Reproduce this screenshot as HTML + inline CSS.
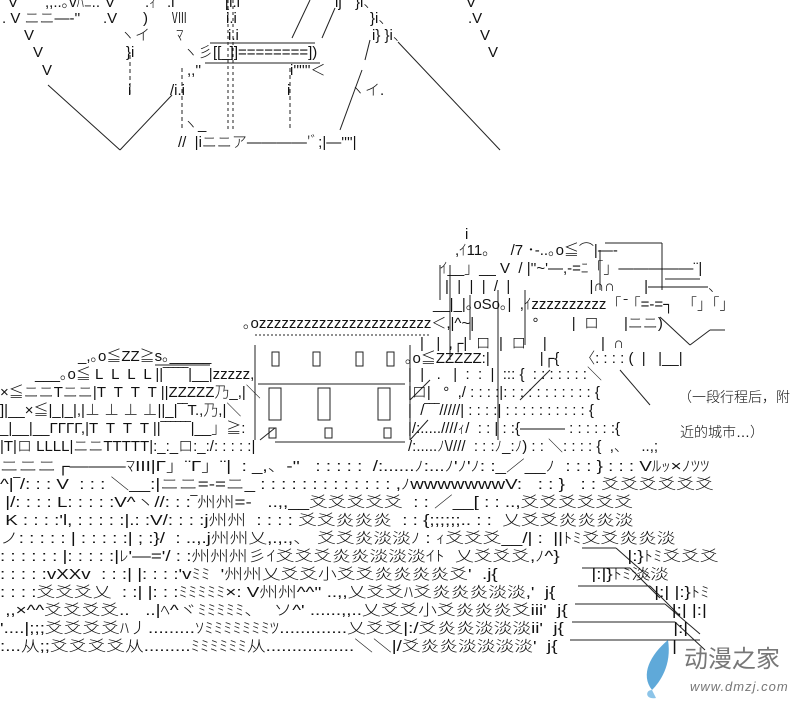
<!DOCTYPE html>
<html><head><meta charset="utf-8"><style>
body{margin:0;background:#fff;width:800px;height:702px;overflow:hidden;position:relative;font-family:"Liberation Sans","Noto Sans CJK JP",sans-serif;}
.t{position:absolute;white-space:pre;font-size:15px;line-height:18px;color:#111;font-family:"Liberation Sans","Noto Sans CJK JP",sans-serif;font-weight:300}
.b{position:absolute;left:0;top:458px;transform:scaleX(1.25);transform-origin:0 0}
.b .t{position:relative;display:block}
svg{position:absolute;left:0;top:0}
</style></head><body>
<svg width="800" height="702" stroke="#222" stroke-width="1" fill="none">
<line x1="48" y1="85" x2="120" y2="150"/><line x1="120" y1="150" x2="172" y2="95"/>
<line x1="398" y1="42" x2="500" y2="150"/>
<line x1="310" y1="0" x2="292" y2="38"/><line x1="335" y1="8" x2="322" y2="38"/>
<line x1="362" y1="70" x2="340" y2="130"/><line x1="370" y1="40" x2="365" y2="60"/>
<line x1="210" y1="43" x2="315" y2="43"/><line x1="205" y1="63" x2="320" y2="63"/>
<line x1="228" y1="0" x2="228" y2="132" stroke-dasharray="3,3"/>
<line x1="233" y1="0" x2="233" y2="132" stroke-dasharray="3,3"/>
<line x1="290" y1="68" x2="290" y2="130" stroke-dasharray="4,3"/>
<line x1="182" y1="68" x2="182" y2="130" stroke-dasharray="4,3"/>
<line x1="130" y1="55" x2="130" y2="95" stroke-dasharray="4,3"/>
<line x1="255" y1="345" x2="255" y2="440"/><line x1="410" y1="345" x2="410" y2="440"/>
<line x1="258" y1="384" x2="405" y2="384"/><line x1="275" y1="442" x2="405" y2="442"/>
<line x1="255" y1="335" x2="430" y2="335" stroke-dasharray="2,2"/>
<rect x="272" y="352" width="7" height="14"/><rect x="313" y="352" width="7" height="14"/><rect x="356" y="352" width="7" height="14"/><rect x="387" y="352" width="7" height="14"/>
<rect x="269" y="388" width="12" height="32"/><rect x="318" y="388" width="12" height="32"/><rect x="378" y="388" width="12" height="32"/>
<rect x="269" y="428" width="7" height="10"/><rect x="325" y="428" width="7" height="10"/><rect x="384" y="428" width="7" height="10"/>
<line x1="155" y1="365" x2="210" y2="365"/>
<line x1="260" y1="440" x2="275" y2="428"/>
<line x1="600" y1="250" x2="600" y2="290"/><line x1="605" y1="243" x2="662" y2="243"/><line x1="662" y1="243" x2="662" y2="290"/>
<line x1="665" y1="279" x2="700" y2="279"/>
<line x1="660" y1="317" x2="690" y2="345"/><line x1="690" y1="345" x2="710" y2="330"/><line x1="710" y1="330" x2="725" y2="330"/>
<line x1="498" y1="290" x2="498" y2="440"/><line x1="525" y1="290" x2="525" y2="345"/>
<line x1="470" y1="295" x2="470" y2="340"/>
<line x1="450" y1="265" x2="450" y2="360"/><line x1="440" y1="265" x2="440" y2="300"/>
<line x1="620" y1="370" x2="650" y2="405"/><line x1="550" y1="370" x2="520" y2="400"/>
<line x1="410" y1="400" x2="430" y2="380"/>
<line x1="428" y1="420" x2="410" y2="440"/>
<line x1="582" y1="548" x2="616" y2="548"/><line x1="616" y1="548" x2="650" y2="578"/>
<line x1="582" y1="568" x2="630" y2="568"/><line x1="630" y1="568" x2="660" y2="598"/>
<line x1="578" y1="586" x2="650" y2="586"/><line x1="650" y1="586" x2="680" y2="616"/>
<line x1="575" y1="604" x2="665" y2="604"/><line x1="665" y1="604" x2="700" y2="634"/>
<line x1="572" y1="622" x2="675" y2="622"/><line x1="675" y1="622" x2="705" y2="650"/>
<line x1="570" y1="640" x2="700" y2="640"/>
</svg>

<div class="t" style="left:8px;top:-6px">V</div><div class="t" style="left:45px;top:-6px">,,..｡vﾊﾆ..</div><div class="t" style="left:105px;top:-6px">V</div><div class="t" style="left:145px;top:-6px">.ｨ</div><div class="t" style="left:167px;top:-6px">.i</div><div class="t" style="left:225px;top:-6px">[i.i</div><div class="t" style="left:335px;top:-6px">ij</div><div class="t" style="left:355px;top:-6px">}i、</div><div class="t" style="left:466px;top:-6px">V</div>
<div class="t" style="left:2px;top:10px">. V ニニ―‐''</div><div class="t" style="left:103px;top:10px">.V</div><div class="t" style="left:143px;top:10px">)</div><div class="t" style="left:172px;top:10px">Ⅷ</div><div class="t" style="left:226px;top:10px">i.i</div><div class="t" style="left:370px;top:10px">}i、</div><div class="t" style="left:468px;top:10px">.V</div>
<div class="t" style="left:24px;top:27px">V</div><div class="t" style="left:120px;top:27px">ヽイ</div><div class="t" style="left:176px;top:27px">ﾏ</div><div class="t" style="left:228px;top:27px">i.i</div><div class="t" style="left:372px;top:27px">i} }i、</div><div class="t" style="left:480px;top:27px">V</div>
<div class="t" style="left:33px;top:44px">V</div><div class="t" style="left:126px;top:44px">}i</div><div class="t" style="left:183px;top:44px">ヽ彡[[_]]========])</div><div class="t" style="left:488px;top:44px">V</div>
<div class="t" style="left:42px;top:62px">V</div><div class="t" style="left:187px;top:62px">,,''</div><div class="t" style="left:290px;top:62px">i''''''＜</div>
<div class="t" style="left:128px;top:82px">i</div><div class="t" style="left:170px;top:82px">/i.i</div><div class="t" style="left:287px;top:82px">i</div><div class="t" style="left:350px;top:82px">ヽイ.</div>
<div class="t" style="left:183px;top:116px">ヽ_</div>
<div class="t" style="left:178px;top:134px">//  |iニニア――――'ﾞ;|―''''|</div>

<div class="t" style="left:465px;top:226px">i</div>
<div class="t" style="left:455px;top:242px">,ｲ11｡     /7 ･-..｡o≦⌒|―‐</div>
<div class="t" style="left:440px;top:260px">ｲ__」__ V  / |''~'―,-=ﾆ「」―――――¨|</div>
<div class="t" style="left:445px;top:278px">|  |  |  |  /  |                   |∩∩       |――――、</div>
<div class="t" style="left:433px;top:296px">__|_|｡oSo｡|  ,ｲzzzzzzzzzz「 ̄「=‐=┐  「」「」</div>
<div class="t" style="left:243px;top:315px">｡ozzzzzzzzzzzzzzzzzzzzzzz＜,|^~|              °        |  ロ      |ニニ)</div>
<div class="t" style="left:420px;top:335px">|   |  ,┌|  ロ  |  ロ    |             |  ∩</div>
<div class="t" style="left:405px;top:350px">｡o≦ZZZZZ:|            |┌{     〈: : : : (  |   |__|</div>
<div class="t" style="left:78px;top:348px">_,｡o≦ZZ≧s｡_____</div>
<div class="t" style="left:35px;top:366px">___｡o≦ L  L  L  L ||‾‾‾‾‾|__|zzzzz,</div>
<div class="t" style="left:0;top:384px">×≦ニニTニニ|T  T  T  T ||ZZZZZ乃_,|＼</div>
<div class="t" style="left:0;top:402px">]|__×≦|_|_|,|⊥ ⊥ ⊥ ⊥||_|‾‾T.,乃,|＼</div>
<div class="t" style="left:0;top:420px">_|__|__ΓΓΓΓ,|T  T  T  T ||‾‾‾‾‾‾|__」≧:</div>
<div class="t" style="left:0;top:438px">|T|ロ LLLL|ニニTTTTT|:_:_ロ:_:/: : : : :|</div>
<div class="t" style="left:408px;top:366px">|  |   .   |  :  :  |  ::: {  : : : : : : :＼</div>
<div class="t" style="left:408px;top:384px">|ロ|   °  ,/ : : : :|: : : : : : : : : : : {</div>
<div class="t" style="left:408px;top:402px">|  /‾‾‾/////| : : : :| : : : : : : : : : : {</div>
<div class="t" style="left:408px;top:420px">|/:.....////ｨ/  : : | : :{――― : : : : : :{</div>
<div class="t" style="left:408px;top:438px">/:.....ﾉ\////  : : :ﾉ_:ﾉ) : : ＼: : : : {  ,、   ..,;</div>

<div class="t" style="left:678px;top:388px;font-size:14px">（一段行程后，附</div>
<div class="t" style="left:680px;top:423px;font-size:14px">近的城市…）</div>

<div class="b">
<div class="t">ニニニ┌―――ﾏIII|Γ」¨Γ」¨|  : _,、-''   : : : : :  /:......ﾉ:...ﾉ'ﾉ'ﾉ: :_／__ﾉ  : : : } : : : Vﾙｯ×ﾉﾂﾂ</div>
<div class="t">^|‾/: : : V  : : : ＼__:|ニニ=-=ニ_ : : : : : : : : : : : : : ,ﾉwwwwwwwV:   : : }   : : 爻爻爻爻爻爻</div>
<div class="t"> |/: : : : L: : : : :V^ヽ//: : :‾州州=-   ..,,__爻爻爻爻爻  : : ／__[ : : ..,爻爻爻爻爻爻</div>
<div class="t"> K : : : :'l, : : : : :|.: :V/: : : :j州州  : : : : 爻爻炎炎炎  : : {;;;;;;.. : :  乂爻爻炎炎炎淡</div>
<div class="t">ノ: : : : : | : : : : :| ; :}/  : ..,.j州州乂,.,.,、 爻爻炎淡淡ﾉ : ｨ爻爻爻__/| :  ||ﾄﾐ爻爻炎炎淡</div>
<div class="t">: : : : : : |: : : : :|ﾚ'―='/ : :州州州彡ｲ爻爻爻炎炎淡淡淡ｲﾄ  乂爻爻爻,ﾉ^}             |:}ﾄﾐ爻爻爻</div>
<div class="t">: : : : :vXXv  : : :| |: : : :'vﾐﾐ  '州州乂爻爻小爻爻炎炎炎炎爻'  .j{                  |:|}ﾄﾐ淡淡</div>
<div class="t">: : : :爻爻爻乂  : :| |: : :ﾐﾐﾐﾐﾐ×: V州州^^'' ..,,乂爻爻ﾊ爻炎炎炎淡淡,'  j{                   |:| |:}ﾄﾐ</div>
<div class="t"> ,,×^^爻爻爻爻..   ..|ﾍ^ヾﾐﾐﾐﾐﾐ、  ソ^' ......,,..乂爻爻小爻炎炎炎爻iii'  j{                    |:| |:|</div>
<div class="t">'....|;;;爻爻爻爻ﾊ丿.........ｿﾐﾐﾐﾐﾐﾐﾐﾂ.............乂爻爻|:/爻炎炎淡淡淡ii'  j{                     |:|</div>
<div class="t">:...从;;爻爻爻爻从.........ﾐﾐﾐﾐﾐﾐ从.................＼＼|/爻炎炎淡淡淡淡'  j{                      |</div>
</div>

<svg width="800" height="702" style="left:0;top:0">
<path d="M668 640 C 650 655 640 675 652 690 C 660 682 672 665 668 640 Z" fill="#5fa9d9"/>
<path d="M652 690 C 645 690 645 700 656 698 Z" fill="#8cc4e8"/>
</svg>
<div class="t" style="left:684px;top:646px;font-size:24px;line-height:28px;color:#777;font-weight:400">动漫之家</div>
<div class="t" style="left:690px;top:680px;font-size:13px;line-height:14px;color:#777;font-style:italic;letter-spacing:1px">www.dmzj.com</div>
</body></html>
